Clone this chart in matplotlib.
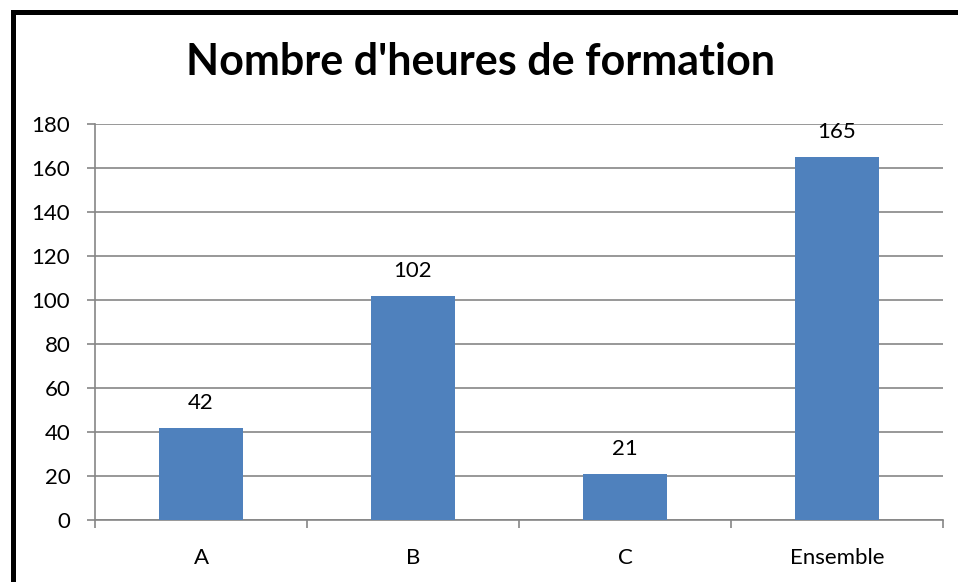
import matplotlib.pyplot as plt
import numpy as np

categories = ["A", "B", "C", "Ensemble"]
heures = [42, 102, 21, 165]
y_ticks = list(range(0, 181, 20))

plt.rcParams["font.family"] = ["Lato", "DejaVu Sans"]

bar_color = "#4F81BD"
axis_color = "#868686"

fig = plt.figure(figsize=(9.58, 5.82), dpi=100)
ax = fig.add_axes([95 / 958, 1 - 520 / 582, (943 - 95) / 958, (520 - 124) / 582])

x = np.arange(len(categories))
bars = ax.bar(x, heures, width=0.4, color=bar_color, zorder=3)
for rect, v in zip(bars, heures):
    ax.annotate(str(v), xy=(rect.get_x() + rect.get_width() / 2, v), xytext=(0, 13.5),
                textcoords="offset points", ha="center", va="baseline", fontsize=16, color="black")

ax.set_xlim(-0.5, len(categories) - 0.5)
ax.set_ylim(0, 180)
ax.set_yticks(y_ticks)
ax.yaxis.grid(True, color=axis_color, linewidth=1.2, zorder=0)
ax.set_axisbelow(True)

# category labels centered, tick marks at boundaries
ax.set_xticks(x)
ax.set_xticklabels(categories, fontsize=16)
ax.tick_params(axis="x", which="major", length=0, pad=20)
ax.set_xticks(np.arange(len(categories) + 1) - 0.5, minor=True)
ax.tick_params(axis="x", which="minor", length=5.8, width=1.2, color=axis_color)
ax.tick_params(axis="y", length=5.8, width=1.2, color=axis_color, labelsize=16, pad=12)

for side in ["top", "right"]:
    ax.spines[side].set_visible(False)
for side in ["left", "bottom"]:
    ax.spines[side].set_color(axis_color)
    ax.spines[side].set_linewidth(1.2)

fig.text(480 / 958, 1 - 62 / 582, "Nombre d'heures de formation", ha="center", va="center",
         fontsize=31, fontweight="bold")

# black frame (left and top edges visible)
fig.add_artist(plt.Line2D([12.5 / 958, 12.5 / 958], [0, 1 - 11.5 / 582], transform=fig.transFigure,
                          color="black", linewidth=3.6, solid_capstyle="projecting"))
fig.add_artist(plt.Line2D([12.5 / 958, 1], [1 - 11.5 / 582, 1 - 11.5 / 582], transform=fig.transFigure,
                          color="black", linewidth=3.6, solid_capstyle="projecting"))

fig.savefig("out.png", dpi=100)
